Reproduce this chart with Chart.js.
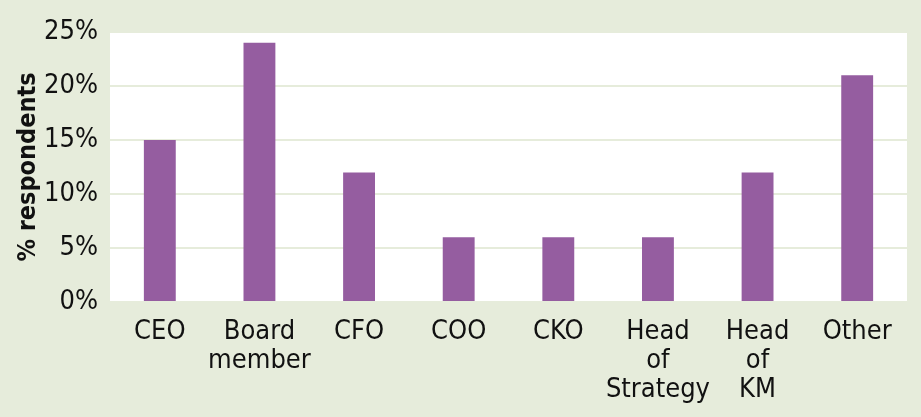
<!DOCTYPE html>
<html>
<head>
<meta charset="utf-8">
<script src="https://cdn.jsdelivr.net/npm/chart.js@4.4.0/dist/chart.umd.min.js"></script>
<style>
  html, body { margin: 0; padding: 0; background: #e6ecdb; }
  #wrap { width: 921px; height: 417px; position: relative; }
</style>
</head>
<body>
<div id="wrap"><canvas id="c"></canvas></div>
<script>
var categories = ['CEO', ['Board', 'member'], 'CFO', 'COO', 'CKO', ['Head', 'of', 'Strategy'], ['Head', 'of', 'KM'], 'Other'];
var respondents = [15, 24, 12, 6, 6, 6, 12, 21];
var yTicks = [0, 5, 10, 15, 20, 25];

var FONT = '"Liberation Sans Narrow", "DejaVu Sans Condensed", "Roboto Condensed", sans-serif';

// white plot area on green page
var plotBg = {
  id: 'plotBg',
  beforeDraw: function (chart) {
    var a = chart.chartArea, ctx = chart.ctx;
    ctx.save();
    ctx.fillStyle = '#ffffff';
    ctx.fillRect(a.left, a.top, a.right - a.left, a.bottom - a.top);
    ctx.restore();
  }
};

new Chart(document.getElementById('c'), {
  type: 'bar',
  data: {
    labels: categories,
    datasets: [{
      data: respondents,
      backgroundColor: '#955da0',
      borderWidth: 0,
      barPercentage: 0.32,
      categoryPercentage: 1
    }]
  },
  options: {
    responsive: true,
    maintainAspectRatio: false,
    animation: false,
    layout: { padding: { top: 32, right: 14, left: 0, bottom: 0 } },
    plugins: { legend: { display: false }, tooltip: { enabled: false } },
    scales: {
      x: {
        grid: { display: false },
        border: { display: false },
        ticks: {
          color: '#111',
          padding: 8,
          maxRotation: 0,
          autoSkip: false,
          font: { family: FONT, size: 27, lineHeight: 1.07 }
        },
        afterFit: function (s) { s.height = 115; }
      },
      y: {
        min: 0,
        max: 25,
        grid: { color: '#e6ecdb', lineWidth: 2, drawTicks: false },
        border: { display: false },
        afterBuildTicks: function (s) { s.ticks = yTicks.map(function (v) { return { value: v }; }); },
        ticks: {
          color: '#111',
          padding: 12,
          font: { family: FONT, size: 27 },
          callback: function (v) { return v + '%'; }
        },
        title: {
          display: true,
          text: '% respondents',
          color: '#111',
          padding: { top: 13, bottom: 4 },
          font: { family: FONT, size: 25, weight: 'bold' }
        },
        afterFit: function (s) { s.width = 110; }
      }
    }
  },
  plugins: [plotBg]
});
</script>
</body>
</html>
